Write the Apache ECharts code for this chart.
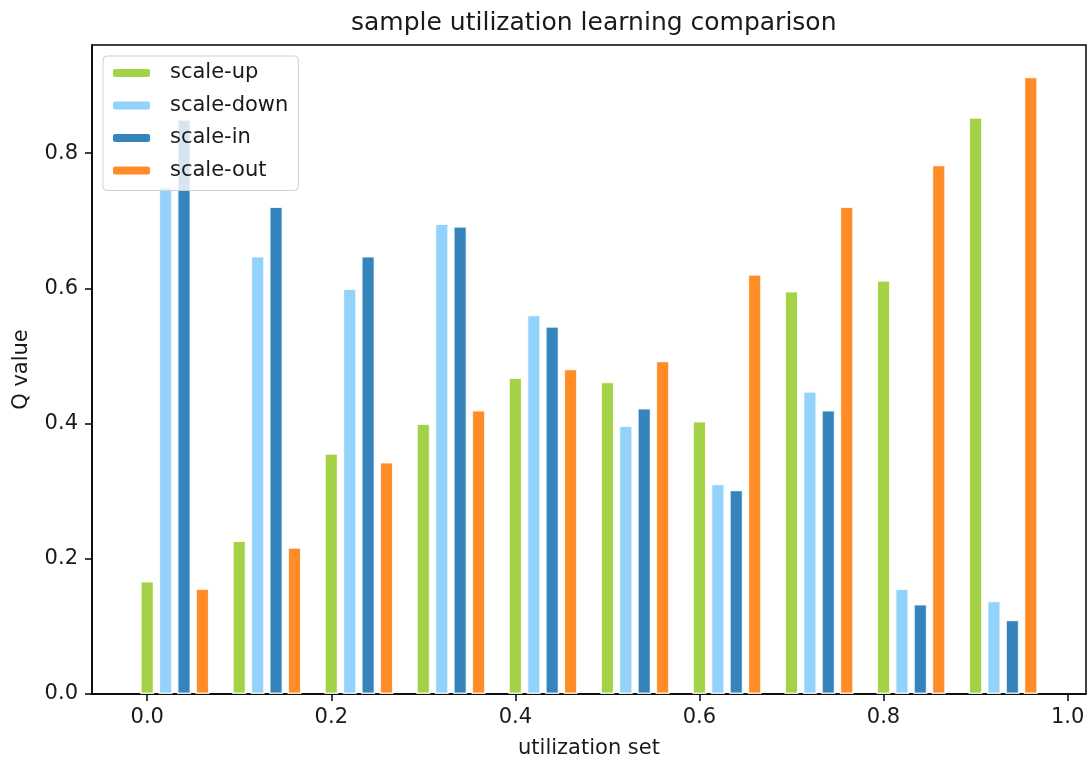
<!DOCTYPE html>
<html>
<head>
<meta charset="utf-8">
<title>sample utilization learning comparison</title>
<script src="https://cdn.jsdelivr.net/npm/echarts@6.0.0/dist/echarts.min.js"></script>
<style>
  html, body { margin: 0; padding: 0; background: #ffffff; }
  #chart { width: 1091px; height: 764px; }
</style>
</head>
<body>
<div id="chart"></div>
<script>
// bar positions on the utilization axis, one list per series
const xUp = [0.00, 0.10, 0.20, 0.30, 0.40, 0.50, 0.60, 0.70, 0.80, 0.90];
const xDown = [0.02, 0.12, 0.22, 0.32, 0.42, 0.52, 0.62, 0.72, 0.82, 0.92];
const xIn = [0.04, 0.14, 0.24, 0.34, 0.44, 0.54, 0.64, 0.74, 0.84, 0.94];
const xOut = [0.06, 0.16, 0.26, 0.36, 0.46, 0.56, 0.66, 0.76, 0.86, 0.96];

// Q values
const qUp = [0.167, 0.227, 0.356, 0.400, 0.468, 0.462, 0.404, 0.596, 0.612, 0.853];
const qDown = [0.751, 0.648, 0.600, 0.696, 0.561, 0.397, 0.311, 0.448, 0.156, 0.138];
const qIn = [0.850, 0.721, 0.648, 0.692, 0.544, 0.423, 0.302, 0.420, 0.133, 0.110];
const qOut = [0.156, 0.217, 0.343, 0.420, 0.481, 0.493, 0.621, 0.721, 0.783, 0.913];

const seriesNames = ['scale-up', 'scale-down', 'scale-in', 'scale-out'];
const xTicks = [0.0, 0.2, 0.4, 0.6, 0.8, 1.0];
const yTicks = [0.0, 0.2, 0.4, 0.6, 0.8];

const colors = ['#a4d247', '#93d2fb', '#3584bb', '#ff8c26'];
const FONT = 'DejaVu Sans';
const FS = 21;
const TEXT = '#1a1a1a';

const pairs = (xs, ys) => xs.map((x, i) => [x, ys[i]]);
const seriesData = [pairs(xUp, qUp), pairs(xDown, qDown), pairs(xIn, qIn), pairs(xOut, qOut)];

const chart = echarts.init(document.getElementById('chart'), null, { renderer: 'canvas' });

const axisCommon = {
  type: 'value',
  nameLocation: 'middle',
  nameTextStyle: { fontFamily: FONT, fontSize: FS, color: TEXT },
  axisLine: { show: true, onZero: false, lineStyle: { color: '#000', width: 1.5 } },
  splitLine: { show: false }
};

const option = {
  animation: false,
  backgroundColor: '#ffffff',
  title: {
    // centred over the plot area, not the whole canvas
    text: 'sample utilization learning comparison',
    left: 346,
    top: 6,
    textStyle: { fontFamily: FONT, fontSize: 25, fontWeight: 'normal', color: TEXT }
  },
  legend: {
    data: seriesNames,
    orient: 'vertical',
    left: 103,
    top: 56,
    itemWidth: 37,
    itemHeight: 8,
    itemGap: 10.5,
    padding: [6, 10, 9, 10],
    borderColor: '#d0d0d0',
    borderWidth: 1,
    borderRadius: 4,
    backgroundColor: 'rgba(255,255,255,0.8)',
    textStyle: { fontFamily: FONT, fontSize: FS, lineHeight: 22, color: TEXT, padding: [0, 0, 0, 15] },
    itemStyle: { borderWidth: 0 }
  },
  grid: {
    left: 92, right: 5, top: 45, bottom: 70,
    show: true,
    borderColor: '#000',
    borderWidth: 1.5,
    containLabel: false
  },
  xAxis: Object.assign({}, axisCommon, {
    min: -0.06,
    max: 1.02,
    name: 'utilization set',
    nameGap: 44,
    axisTick: { show: true, customValues: xTicks, length: 7, lineStyle: { color: '#000', width: 1.5 } },
    axisLabel: {
      customValues: xTicks,
      fontFamily: FONT, fontSize: FS, color: TEXT, margin: 13,
      formatter: v => v.toFixed(1)
    }
  }),
  yAxis: Object.assign({}, axisCommon, {
    min: 0,
    max: 0.96,
    name: 'Q value',
    nameGap: 60,
    axisTick: { show: true, customValues: yTicks, length: 7, lineStyle: { color: '#000', width: 1.5 } },
    axisLabel: {
      customValues: yTicks,
      fontFamily: FONT, fontSize: FS, color: TEXT, margin: 14,
      formatter: v => v.toFixed(1)
    }
  }),
  series: seriesNames.map((name, i) => ({
    name: name,
    type: 'bar',
    data: seriesData[i],
    barWidth: 14,
    barGap: '-100%',
    itemStyle: {
      color: colors[i],
      borderColor: 'rgba(255,255,255,0.85)',
      borderWidth: 1.5
    }
  }))
};

chart.setOption(option);
</script>
</body>
</html>
